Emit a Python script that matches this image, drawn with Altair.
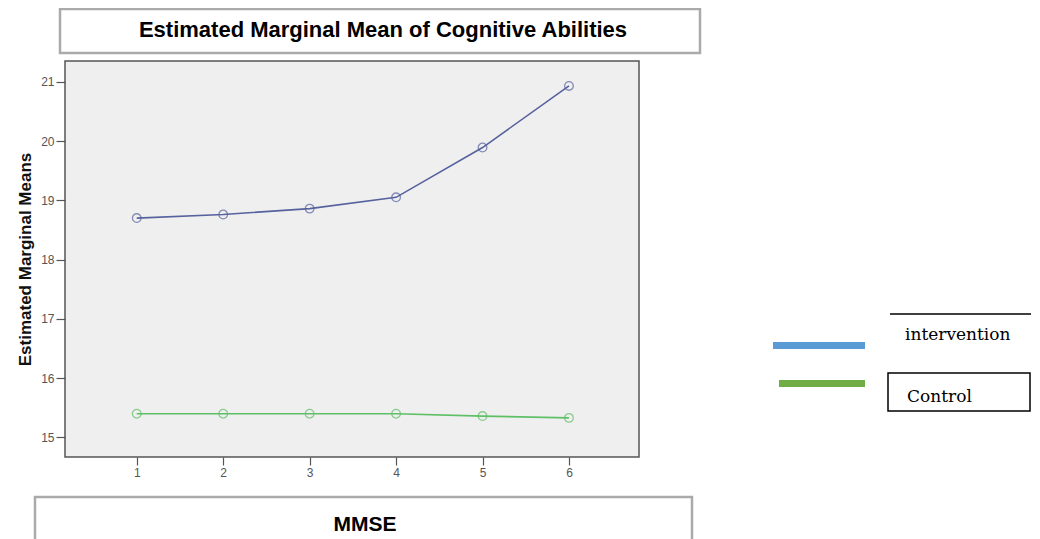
import altair as alt
import pandas as pd

# ---- data ----
sessions = [1, 2, 3, 4, 5, 6]
intervention = [18.70, 18.76, 18.86, 19.05, 19.89, 20.93]
control = [15.40, 15.40, 15.40, 15.40, 15.36, 15.33]
groups = ["intervention", "Control"]
group_colors = ["#56629e", "#5fbf66"]
y_ticks = [15, 16, 17, 18, 19, 20, 21]

rows = []
for s, v in zip(sessions, intervention):
    rows.append({"MMSE": s, "mean": v, "group": groups[0]})
for s, v in zip(sessions, control):
    rows.append({"MMSE": s, "mean": v, "group": groups[1]})
df = pd.DataFrame(rows)
one = pd.DataFrame({"k": [0]})

W, H = 574, 396
SANS = "Liberation Sans"
SERIF = "DejaVu Serif"

x_scale = alt.Scale(domain=[0.17, 6.81], nice=False, zero=False)
y_scale = alt.Scale(domain=[14.67, 21.35], nice=False, zero=False)
color_scale = alt.Scale(domain=groups, range=group_colors)

base = alt.Chart(df).encode(
    x=alt.X("MMSE:Q", scale=x_scale,
            axis=alt.Axis(values=sessions, title=None, grid=False, domain=False,
                          tickSize=8, tickColor="#555555", tickWidth=1.2,
                          labelColor="#555555", labelFont=SANS, labelFontSize=12,
                          labelPadding=2, format="d")),
    y=alt.Y("mean:Q", scale=y_scale,
            axis=alt.Axis(values=y_ticks, title="Estimated Marginal Means", grid=False,
                          domain=False, tickSize=9, tickColor="#555555", tickWidth=1.2,
                          labelColor="#555555", labelFont=SANS, labelFontSize=12,
                          labelPadding=2, titleFont=SANS, titleFontSize=17,
                          titleFontWeight="bold", titleColor="#111111", titlePadding=6)),
    color=alt.Color("group:N", scale=color_scale, legend=None),
    detail="group:N",
)
lines = base.mark_line(strokeWidth=1.6)
points = base.mark_point(shape="circle", filled=False, size=75, strokeWidth=1.3)


def rect(x, x2, y, y2, fill, stroke=None, sw=0):
    kw = dict(fill=fill, strokeWidth=sw)
    if stroke is not None:
        kw["stroke"] = stroke
    return alt.Chart(one).mark_rect(**kw).encode(
        x=alt.value(x), x2=alt.value(x2), y=alt.value(y), y2=alt.value(y2))


def label(txt, x, y, font, size, weight="normal", align="center", baseline="middle"):
    return alt.Chart(one).mark_text(text=txt, font=font, fontSize=size, fontWeight=weight,
                                    align=align, baseline=baseline, color="#000000").encode(
        x=alt.value(x), y=alt.value(y))


title_box = rect(-5, 635, -52, -8, "#ffffff", "#aaaaaa", 2.5)
title_txt = label("Estimated Marginal Mean of Cognitive Abilities", 318, -31, SANS, 22, "bold")
mmse_box = rect(-30, 627, 436, 530, "#ffffff", "#aaaaaa", 2.5)
mmse_txt = label("MMSE", 300, 464, SANS, 21, "bold")

blue_bar = rect(708, 800, 281, 288, "#5b9bd5")
green_bar = rect(714, 800, 319, 326, "#70ad47")
top_line = alt.Chart(one).mark_rule(color="#000000", strokeWidth=1.5).encode(
    x=alt.value(825), x2=alt.value(966), y=alt.value(253))
int_txt = label("intervention", 840, 279, SERIF, 17, align="left", baseline="alphabetic")
ctrl_box = rect(823, 965, 312, 350, "#ffffff", "#000000", 1.5)
ctrl_txt = label("Control", 842, 341, SERIF, 17, align="left", baseline="alphabetic")

chart = alt.layer(
    title_box, title_txt, mmse_box, mmse_txt,
    blue_bar, green_bar, top_line, int_txt, ctrl_box, ctrl_txt,
    lines, points,
).properties(
    width=W, height=H,
    autosize=alt.AutoSizeParams(type="none"),
    padding={"left": 57, "top": 53, "right": 393, "bottom": 82},
    background="#ffffff",
).configure_view(
    fill="#efefef", stroke="#555555", strokeWidth=1.5
)

chart.save("out.html", embed_options={"renderer": "svg", "actions": False})
